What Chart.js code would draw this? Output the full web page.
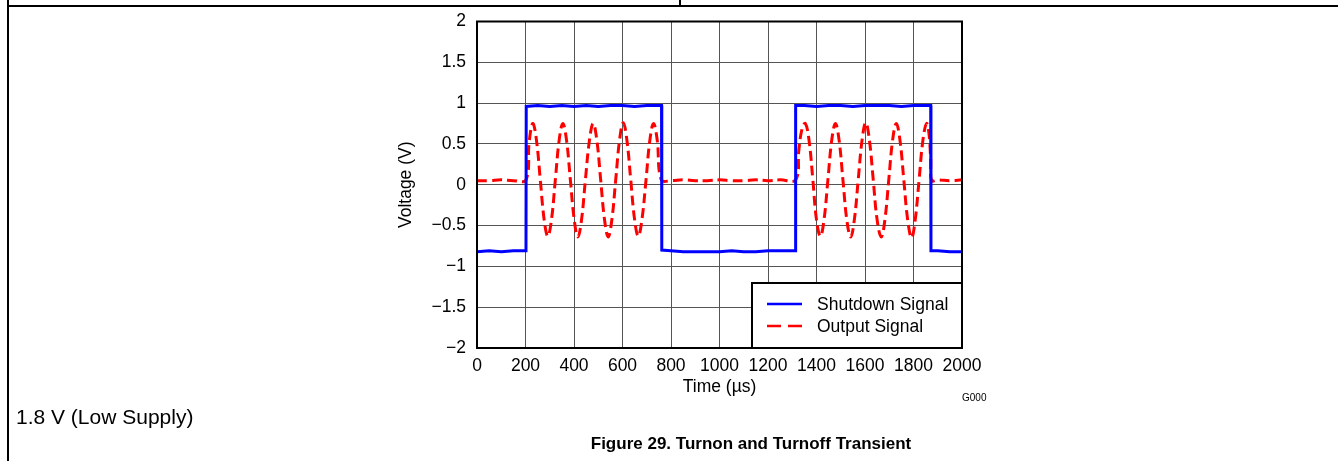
<!DOCTYPE html>
<html>
<head>
<meta charset="utf-8">
<script src="https://cdn.jsdelivr.net/npm/chart.js@4"></script>
<style>
  html, body { margin: 0; padding: 0; background: #fff; }
  canvas { display: block; }
</style>
</head>
<body>
<canvas id="c" width="1338" height="461" style="width:1338px;height:461px"></canvas>
<script>
// ---- data ----
const xTickLabels = ['0','200','400','600','800','1000','1200','1400','1600','1800','2000'];
const yTickLabels = ['\u22122','\u22121.5','\u22121','\u22120.5','0','0.5','1','1.5','2'];

const shutdownTime = [0, 50, 100, 150, 202, 203, 250, 300, 350, 400, 450, 500, 550, 600, 650, 700, 761, 762, 800, 850, 900, 950, 1000, 1050, 1100, 1150, 1200, 1250, 1313, 1314, 1350, 1400, 1450, 1500, 1550, 1600, 1650, 1700, 1750, 1800, 1871, 1872, 1900, 1950, 2000];
const shutdownVolt = [-0.82, -0.81, -0.82, -0.81, -0.81, 0.96, 0.97, 0.96, 0.97, 0.96, 0.97, 0.96, 0.97, 0.97, 0.96, 0.97, 0.97, -0.80, -0.81, -0.82, -0.82, -0.82, -0.82, -0.81, -0.82, -0.82, -0.81, -0.81, -0.81, 0.97, 0.97, 0.96, 0.97, 0.97, 0.96, 0.97, 0.97, 0.97, 0.96, 0.97, 0.97, -0.81, -0.81, -0.82, -0.82];

const outputTime = [0, 50, 100, 150, 202,
  215, 230, 245, 261, 277, 292, 307, 323, 339, 354, 369, 385, 401, 416, 431, 447,
  464, 479, 494, 510, 526, 541, 556, 572, 588, 603, 618, 634, 650, 665, 680, 697,
  713, 728, 743, 760,
  800, 850, 900, 950, 1000, 1050, 1100, 1150, 1200, 1250, 1314,
  1327, 1340, 1354, 1369, 1385, 1400, 1416, 1431, 1447, 1463, 1478, 1493, 1509,
  1525, 1541, 1556, 1572, 1588, 1603, 1618, 1634, 1650, 1667, 1682, 1698,
  1714, 1729, 1744, 1760, 1776, 1792, 1807, 1823, 1839, 1854, 1864, 1871, 1875,
  1900, 1950, 2000];
const outputVolt = [0.05, 0.05, 0.06, 0.05, 0.06,
  0.52, 0.75, 0.55, 0.06, -0.43, -0.63, -0.43, 0.06, 0.55, 0.75, 0.55, 0.06, -0.43, -0.64, -0.43, 0.06,
  0.55, 0.75, 0.55, 0.06, -0.43, -0.64, -0.43, 0.06, 0.55, 0.76, 0.55, 0.06, -0.43, -0.63, -0.43, 0.06,
  0.55, 0.75, 0.55, 0.06,
  0.05, 0.06, 0.05, 0.05, 0.06, 0.05, 0.05, 0.06, 0.05, 0.06, 0.06,
  0.42, 0.68, 0.75, 0.55, 0.06, -0.43, -0.63, -0.43, 0.06, 0.55, 0.75, 0.55, 0.06,
  -0.43, -0.64, -0.43, 0.06, 0.55, 0.76, 0.55, 0.06, -0.43, -0.64, -0.43, 0.06,
  0.55, 0.75, 0.55, 0.06, -0.43, -0.65, -0.43, 0.06, 0.55, 0.75, 0.62, 0.30, 0.05,
  0.06, 0.05, 0.06];

const seriesNames = ['Shutdown Signal', 'Output Signal'];

// ---- chart ----
const FONT = '"Liberation Sans", Arial, sans-serif';
const AREA = { left: 477, top: 20, right: 962, bottom: 348 };

const toPts = (xs, ys) => xs.map((x, i) => ({ x: x, y: ys[i] }));

const extras = {
  id: 'extras',
  afterDatasetsDraw(chart) {
    const ctx = chart.ctx;
    const a = chart.chartArea;
    ctx.save();
    ctx.strokeStyle = '#000';
    ctx.lineWidth = 2;
    ctx.strokeRect(a.left, a.top, a.right - a.left, a.bottom - a.top);

    const lx = 752, ly = 283, lw = a.right - 752, lh = a.bottom - 283;
    ctx.fillStyle = '#fff';
    ctx.fillRect(lx, ly, lw, lh);
    ctx.lineWidth = 2;
    ctx.strokeStyle = '#000';
    ctx.strokeRect(lx, ly, lw, lh);
    const ds = chart.data.datasets;
    const rows = [304, 326];
    ds.forEach((d, i) => {
      ctx.beginPath();
      ctx.strokeStyle = d.borderColor;
      ctx.lineWidth = 2.5;
      ctx.setLineDash(i === 1 ? [14, 7] : []);
      ctx.moveTo(767, rows[i]);
      ctx.lineTo(802, rows[i]);
      ctx.stroke();
      ctx.setLineDash([]);
      ctx.fillStyle = '#000';
      ctx.font = '17.5px ' + FONT;
      ctx.textAlign = 'left';
      ctx.textBaseline = 'middle';
      ctx.fillText(d.label, 817, rows[i] + 1);
    });
    ctx.restore();
  },
  afterDraw(chart) {
    const ctx = chart.ctx;
    const a = chart.chartArea;
    ctx.save();
    ctx.fillStyle = '#000';
    ctx.font = '17.5px ' + FONT;
    ctx.textAlign = 'center';
    ctx.textBaseline = 'middle';
    ctx.fillText('Time (\u00b5s)', (a.left + a.right) / 2, 387);
    ctx.save();
    ctx.translate(406, (a.top + a.bottom) / 2);
    ctx.rotate(-Math.PI / 2);
    ctx.fillText('Voltage (V)', 0, 0);
    ctx.restore();
    ctx.font = '10px ' + FONT;
    ctx.textAlign = 'left';
    ctx.fillText('G000', 962, 398);
    ctx.font = '21px ' + FONT;
    ctx.fillText('1.8 V (Low Supply)', 16, 418);
    ctx.font = 'bold 17px ' + FONT;
    ctx.textAlign = 'center';
    ctx.fillText('Figure 29. Turnon and Turnoff Transient', 751, 444);
    ctx.strokeStyle = '#000';
    ctx.lineWidth = 2;
    ctx.beginPath();
    ctx.moveTo(8, 0); ctx.lineTo(8, 461);
    ctx.moveTo(8, 6); ctx.lineTo(1338, 6);
    ctx.moveTo(680, 0); ctx.lineTo(680, 6);
    ctx.stroke();
    ctx.restore();
  }
};

new Chart(document.getElementById('c'), {
  type: 'line',
  data: {
    datasets: [
      {
        label: seriesNames[0],
        data: toPts(shutdownTime, shutdownVolt),
        borderColor: '#0000ff',
        borderWidth: 3,
        pointRadius: 0,
        tension: 0,
        fill: false
      },
      {
        label: seriesNames[1],
        data: toPts(outputTime, outputVolt),
        borderColor: '#ff0000',
        borderWidth: 3,
        borderDash: [10, 5],
        pointRadius: 0,
        tension: 0.4,
        fill: false
      }
    ]
  },
  options: {
    responsive: false,
    animation: false,
    devicePixelRatio: 1,
    layout: { padding: { left: 0, top: AREA.top, right: 1338 - AREA.right, bottom: 0 } },
    plugins: { legend: { display: false }, tooltip: { enabled: false } },
    scales: {
      x: {
        type: 'linear',
        min: 0, max: 2000,
        afterFit: s => { s.height = 461 - AREA.bottom; },
        afterBuildTicks: s => { s.ticks = xTickLabels.map(t => ({ value: Number(t) })); },
        ticks: {
          callback: (v, i) => xTickLabels[i],
          color: '#000',
          font: { family: FONT, size: 17.5 },
          padding: 8,
          maxRotation: 0,
          autoSkip: false
        },
        grid: { color: '#555555', lineWidth: 1, drawTicks: false },
        border: { display: false }
      },
      y: {
        type: 'linear',
        min: -2, max: 2,
        afterFit: s => { s.width = AREA.left; },
        afterBuildTicks: s => { s.ticks = yTickLabels.map(t => ({ value: Number(t.replace('\u2212', '-')) })); },
        ticks: {
          callback: (v, i) => yTickLabels[i],
          color: '#000',
          font: { family: FONT, size: 17.5 },
          padding: 11,
          autoSkip: false
        },
        grid: { color: '#555555', lineWidth: 1, drawTicks: false },
        border: { display: false }
      }
    }
  },
  plugins: [extras]
});
</script>
</body>
</html>
